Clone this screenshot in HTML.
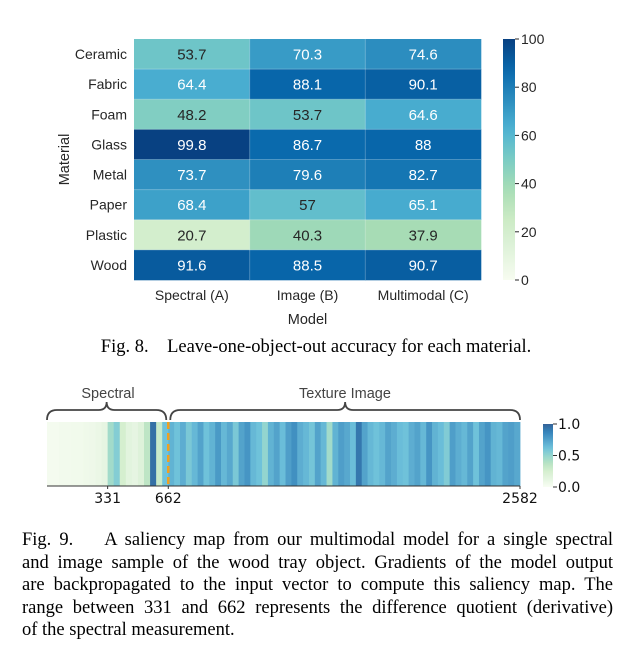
<!DOCTYPE html>
<html><head><meta charset="utf-8">
<style>
html,body{margin:0;padding:0;background:#fff;width:632px;height:655px;overflow:hidden}
svg{display:block}
.cap{position:absolute;font-family:"Liberation Serif",serif;font-size:18.5px;color:#000;line-height:22.5px;white-space:nowrap}
.jl{text-align:justify;text-align-last:justify;height:22.5px}
</style></head>
<body>
<div style="position:relative;width:632px;height:655px">
<svg id="chart" width="632" height="520" style="position:absolute;left:0;top:0"></svg>
<div class="cap" style="left:0;width:632px;top:336px;text-align:center">Fig. 8.&nbsp;&nbsp;&nbsp; Leave-one-object-out accuracy for each material.</div>
<div class="cap" style="left:22px;width:591px;top:529px">
<div class="jl">Fig. 9.&nbsp;&nbsp;&nbsp; A saliency map from our multimodal model for a single spectral</div>
<div class="jl">and image sample of the wood tray object. Gradients of the model output</div>
<div class="jl">are backpropagated to the input vector to compute this saliency map. The</div>
<div class="jl">range between 331 and 662 represents the difference quotient (derivative)</div>
<div>of the spectral measurement.</div>
</div>
</div>
<script>
const materials=["Ceramic","Fabric","Foam","Glass","Metal","Paper","Plastic","Wood"];
const models=["Spectral (A)","Image (B)","Multimodal (C)"];
const spectralAcc=[53.7,64.4,48.2,99.8,73.7,68.4,20.7,91.6];
const imageAcc=[70.3,88.1,53.7,86.7,79.6,57,40.3,88.5];
const multiAcc=[74.6,90.1,64.6,88,82.7,65.1,37.9,90.7];
const accLabels=[["53.7","64.4","48.2","99.8","73.7","68.4","20.7","91.6"],["70.3","88.1","53.7","86.7","79.6","57","40.3","88.5"],["74.6","90.1","64.6","88","82.7","65.1","37.9","90.7"]];
const cbTicks=[0,20,40,60,80,100];
const salSpectral=[0.03,0.03,0.04,0.04,0.05,0.05,0.06,0.07,0.09,0.12,0.45,0.55,0.25,0.15,0.12,0.18,0.35,0.95,0.3,0.62];
const salTexture=[0.68,0.62,0.7,0.58,0.66,0.74,0.62,0.68,0.78,0.66,0.72,0.58,0.74,0.8,0.66,0.62,0.5,0.68,0.74,0.64,0.76,0.82,0.7,0.66,0.6,0.74,0.66,0.45,0.68,0.76,0.72,0.64,0.92,0.74,0.66,0.62,0.66,0.74,0.7,0.64,0.62,0.7,0.74,0.66,0.8,0.68,0.64,0.56,0.76,0.7,0.66,0.74,0.62,0.74,0.8,0.68,0.66,0.74,0.76,0.72];
const salTicks=[331,662,2582];
const salCbTicks=[0,0.5,1];

const NS="http://www.w3.org/2000/svg";
const svg=document.getElementById('chart');
function mk(t,a,p){const e=document.createElementNS(NS,t);for(const k in a)e.setAttribute(k,a[k]);(p||svg).appendChild(e);return e;}
const stops=[[247,252,240],[224,243,219],[204,235,197],[168,221,181],[123,204,196],[78,179,211],[43,140,190],[8,104,172],[8,64,129]];
function gnbu(t,alpha){t=Math.max(0,Math.min(1,t));const f=t*8,i=Math.min(7,Math.floor(f)),r=f-i;const c=stops[i].map((v,k)=>v+(stops[i+1][k]-v)*r);const a=alpha||1;return `rgb(${c.map(v=>Math.round(255+(v-255)*a)).join(',')})`;}

const hx0=134,hx1=481,hy0=39,hy1=280;
const cw=(hx1-hx0)/models.length,ch=(hy1-hy0)/materials.length;
const xs=i=>hx0+i*cw, ys=j=>hy0+j*ch;
const series=[spectralAcc,imageAcc,multiAcc];
const F='font-family:"Liberation Sans",sans-serif;';
series.forEach((vals,i)=>vals.forEach((v,j)=>{
  const r=mk('rect',{x:xs(i),y:ys(j),width:cw+0.3,height:ch+0.3,fill:gnbu(v/100)});
  
  
  const t=mk('text',{x:xs(i)+cw/2,y:ys(j)+ch/2+5.5,'text-anchor':'middle',style:F+'font-size:15px',fill:v>60?'#fff':'#262626'});
  t.textContent=accLabels[i][j];
  
  
}));
for(let i=1;i<models.length;i++)mk('line',{x1:xs(i),x2:xs(i),y1:hy0,y2:hy1,stroke:'rgba(255,255,255,0.25)'});
for(let j=1;j<materials.length;j++)mk('line',{x1:hx0,x2:hx1,y1:ys(j),y2:ys(j),stroke:'rgba(255,255,255,0.25)'});
materials.forEach((m,j)=>{const t=mk('text',{x:127,y:ys(j)+ch/2+5,'text-anchor':'end',style:F+'font-size:14px',fill:'#262626'});t.textContent=m;});
models.forEach((m,i)=>{const t=mk('text',{x:xs(i)+cw/2,y:300,'text-anchor':'middle',style:F+'font-size:14px',fill:'#262626'});t.textContent=m;});
let t=mk('text',{x:hx0+(hx1-hx0)/2,y:324,'text-anchor':'middle',style:F+'font-size:14.5px',fill:'#262626'});t.textContent='Model';
t=mk('text',{x:0,y:0,transform:`translate(69,${(hy0+hy1)/2}) rotate(-90)`,'text-anchor':'middle',style:F+'font-size:14.5px',fill:'#262626'});t.textContent='Material';
const cbx=503,cbw=12;
const cby=v=>hy1-(v/100)*(hy1-hy0);
const g=mk('defs',{});const lg=mk('linearGradient',{id:'cb1',x1:0,y1:1,x2:0,y2:0},g);
for(let k=0;k<=20;k++)mk('stop',{offset:k/20,'stop-color':gnbu(k/20)},lg);
const cb=mk('rect',{x:cbx,y:hy0,width:cbw,height:hy1-hy0,fill:'url(#cb1)'});
cbTicks.forEach(v=>{mk('line',{x1:cbx+cbw,x2:cbx+cbw+4,y1:cby(v),y2:cby(v),stroke:'#262626'});const tt=mk('text',{x:cbx+cbw+6,y:cby(v)+5,style:F+'font-size:14px',fill:'#262626'});tt.textContent=v;});

const sx0=47,sx1=520,sy0=422,sy1=486,N=2582;
const sx=u=>sx0+(u/N)*(sx1-sx0);
const spW=662/salSpectral.length, txW=(N-662)/salTexture.length;
salSpectral.forEach((v,i)=>{const r=mk('rect',{x:sx(i*spW),y:sy0,width:sx((i+1)*spW)-sx(i*spW)+0.4,height:sy1-sy0,fill:gnbu(v,0.82)});});
salTexture.forEach((v,i)=>{const r=mk('rect',{x:sx(662+i*txW),y:sy0,width:sx(662+(i+1)*txW)-sx(662+i*txW)+0.4,height:sy1-sy0,fill:gnbu(v,0.82)});});
mk('line',{x1:sx0,x2:sx1,y1:sy1,y2:sy1,stroke:'#333','stroke-width':1});
const dl=mk('line',{x1:sx(662),x2:sx(662),y1:sy0,y2:sy1,stroke:'#f0a020','stroke-width':2.5,'stroke-dasharray':'7,4'});
salTicks.forEach(v=>{mk('line',{x1:sx(v),x2:sx(v),y1:sy1,y2:sy1+3,stroke:'#333'});const tt=mk('text',{x:sx(v),y:503,'text-anchor':'middle',style:'font-family:"DejaVu Sans",sans-serif;font-size:14px',fill:'#111'});tt.textContent=v;});
function brace(a,b,name){const m=(a+b)/2,y=420;const p=mk('path',{d:`M${a},${y} Q${a},${y-10} ${a+10},${y-10} L${m-8},${y-10} Q${m},${y-10} ${m},${y-18} Q${m},${y-10} ${m+8},${y-10} L${b-10},${y-10} Q${b},${y-10} ${b},${y}`,fill:'none',stroke:'#444','stroke-width':1.8});}
brace(sx0,sx(662)-2,'spectral-brace');brace(sx(662)+2,sx1,'texture-brace');
t=mk('text',{x:108,y:398,'text-anchor':'middle',style:F+'font-size:14.5px',fill:'#444'});t.textContent='Spectral';
t=mk('text',{x:345,y:398,'text-anchor':'middle',style:F+'font-size:14.5px',fill:'#444'});t.textContent='Texture Image';
const c2x=543,c2w=10,c2y0=424,c2y1=487;
const lg2=mk('linearGradient',{id:'cb2',x1:0,y1:1,x2:0,y2:0},g);
for(let k=0;k<=20;k++)mk('stop',{offset:k/20,'stop-color':gnbu(k/20,0.82)},lg2);
const cb2=mk('rect',{x:c2x,y:c2y0,width:c2w,height:c2y1-c2y0,fill:'url(#cb2)'});
salCbTicks.forEach(v=>{const y=c2y1-v*(c2y1-c2y0);mk('line',{x1:c2x+c2w,x2:c2x+c2w+4,y1:y,y2:y,stroke:'#333'});const tt=mk('text',{x:c2x+c2w+5,y:y+5,style:'font-family:"DejaVu Sans",sans-serif;font-size:14px',fill:'#111'});tt.textContent=v.toFixed(1);});
</script>
</body></html>
